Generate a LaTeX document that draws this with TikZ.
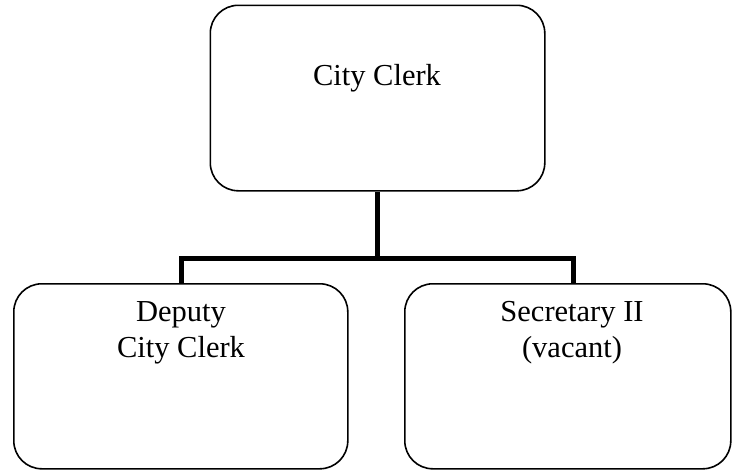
\documentclass[tikz,border=0pt]{standalone}
\usepackage{fontspec}
\setmainfont{Liberation Serif}
\begin{document}
\begin{tikzpicture}[x=1pt,y=-1pt,
    box/.style={draw, line width=1.6pt, rounded corners=28pt, inner sep=0pt, anchor=north west},
    link/.style={line width=5pt, line join=miter},
    lbl/.style={inner sep=0pt, align=center, font=\fontsize{30.5}{35.5}\selectfont}]
  \useasboundingbox (0,0) rectangle (732,474);
  % boxes
  \node[box, minimum width=334.5pt, minimum height=185.5pt] (clerk) at (209.5,4.5) {};
  \node[box, minimum width=334pt, minimum height=185pt] (deputy) at (13,283) {};
  \node[box, minimum width=326pt, minimum height=185pt] (secretary) at (404,283) {};
  % labels
  \node[lbl, anchor=base] (clerkText) at (377,85) {City Clerk};
  \node[lbl, anchor=north] (deputyText) at (181,301.5) {Deputy\\City Clerk};
  \node[lbl, anchor=north] (secretaryText) at (572,301.5) {Secretary II\\(vacant)};
  % connectors
  \coordinate (junction) at (377,258);
  \coordinate (dropL) at (181,283);
  \coordinate (dropR) at (573,283);
  \draw[link] (clerk.south) -- (clerk.south |- junction);
  \draw[link] (dropL) |- (junction) -| (dropR);
\end{tikzpicture}
\end{document}
